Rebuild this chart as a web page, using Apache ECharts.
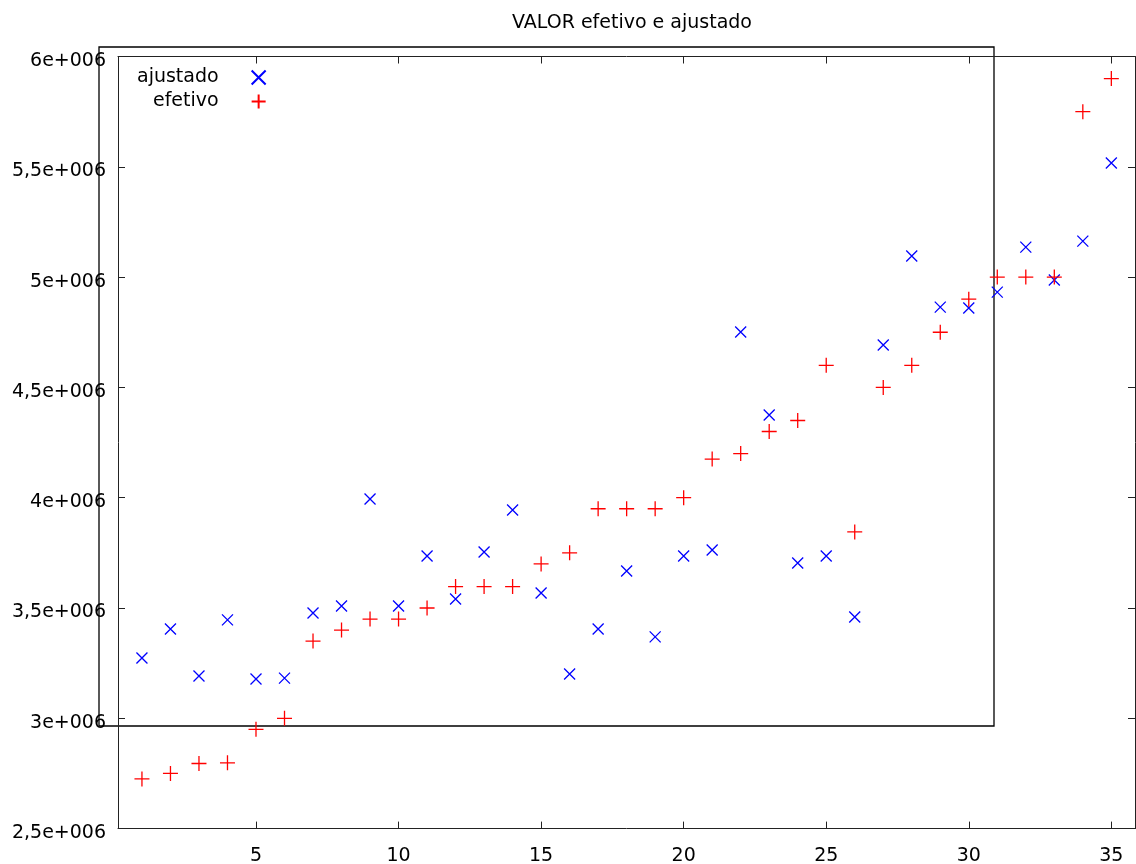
<!DOCTYPE html>
<html>
<head>
<meta charset="utf-8">
<script src="https://cdn.jsdelivr.net/npm/echarts@6/dist/echarts.min.js"></script>
<style>html,body{margin:0;padding:0;background:#fff}#c{width:1136px;height:864px}</style>
</head>
<body>
<div id="c"></div>
<script>
const titleText = 'VALOR efetivo e ajustado';
const seriesNames = ['ajustado', 'efetivo'];
const xValues = [1,2,3,4,5,6,7,8,9,10,11,12,13,14,15,16,17,18,19,20,21,22,23,24,25,26,27,28,29,30,31,32,33,34,35];
const ajustado = [3273000,3405000,3192000,3446000,3178000,3182000,3477000,3509000,3994000,3509000,
  3736000,3541000,3754000,3944000,3568000,3201000,3405000,3668000,3369000,3736000,
  3763000,4751000,4375000,3704000,3736000,3459000,4692000,5096000,4864000,4860000,
  4932000,5136000,4987000,5163000,5517000];
const efetivo = [2725000,2750000,2795000,2798000,2950000,3000000,3350000,3400000,3450000,3450000,
  3500000,3597000,3597000,3597000,3700000,3750000,3950000,3950000,3950000,4000000,
  4175000,4200000,4300000,4350000,4600000,3845000,4500000,4600000,4750000,4900000,
  5000000,5000000,5000000,5750000,5900000];
const xTicks = [5,10,15,20,25,30,35];
const yTicks = [2500000,3000000,3500000,4000000,4500000,5000000,5500000,6000000];

const FONT = 'DejaVu Sans';
function fmtY(v){
  const m = v/1e6;
  return String(m).replace('.', ',') + 'e+006';
}
const pairs = arr => xValues.map((x,i)=>[x, arr[i]]);

const chart = echarts.init(document.getElementById('c'));
const axisLineStyle = {color:'#222', width:1};
chart.setOption({
  animation:false,
  backgroundColor:'#fff',
  textStyle:{fontFamily:FONT},
  title:{
    text:titleText, left:627, top:9, textAlign:'center',
    textStyle:{fontFamily:FONT, fontSize:19, fontWeight:'normal', color:'#000'}
  },
  legend:{
    orient:'vertical', left:132, top:63, align:'right',
    itemWidth:14, itemHeight:14, itemGap:5,
    data:seriesNames,
    textStyle:{fontFamily:FONT, fontSize:19, color:'#000', width:104, align:'right', padding:[0,28,0,0]}
  },
  grid:{left:118, right:1, top:56.5, bottom:35.4, show:false, outerBoundsMode:'none', containLabel:false},
  xAxis:[{
    type:'value', min:0.16, max:35.83, position:'bottom',
    axisLine:{show:true, lineStyle:axisLineStyle},
    axisTick:{show:true, inside:true, length:7, customValues:xTicks, lineStyle:{color:'#222'}},
    axisLabel:{show:true, customValues:xTicks, fontFamily:FONT, fontSize:19, color:'#000', margin:18},
    splitLine:{show:false}
  },{
    type:'value', min:0.16, max:35.83, position:'top',
    axisLine:{show:true, lineStyle:axisLineStyle},
    axisTick:{show:true, inside:true, length:7, customValues:xTicks, lineStyle:{color:'#222'}},
    axisLabel:{show:false},
    splitLine:{show:false}
  }],
  yAxis:[{
    type:'value', min:2500000, max:6000000, interval:500000, position:'left',
    axisLine:{show:true, lineStyle:axisLineStyle},
    axisTick:{show:true, inside:true, length:7, customValues:yTicks, lineStyle:{color:'#222'}},
    axisLabel:{show:true, customValues:yTicks, formatter:fmtY, fontFamily:FONT, fontSize:19, color:'#000', margin:12, verticalAlign:'top', lineHeight:9},
    splitLine:{show:false}
  },{
    type:'value', min:2500000, max:6000000, interval:500000, position:'right',
    axisLine:{show:true, lineStyle:axisLineStyle},
    axisTick:{show:true, inside:true, length:7, customValues:yTicks, lineStyle:{color:'#222'}},
    axisLabel:{show:false},
    splitLine:{show:false}
  }],
  graphic:[{
    type:'rect', z:0, silent:true,
    shape:{x:99, y:47, width:895, height:679},
    style:{fill:'none', stroke:'#000', lineWidth:1.3}
  }],
  series:[{
    name:'ajustado', type:'scatter', data:pairs(ajustado),
    symbol:'path://M0,0L10,10M10,0L0,10', symbolSize:11,
    itemStyle:{color:'#0000ff', borderColor:'#0000ff', borderWidth:1.3, opacity:1}
  },{
    name:'efetivo', type:'scatter', data:pairs(efetivo),
    symbol:'path://M5,0L5,10M0,5L10,5', symbolSize:15,
    itemStyle:{color:'#ff0000', borderColor:'#ff0000', borderWidth:1.3, opacity:1}
  }]
});
</script>
</body>
</html>
